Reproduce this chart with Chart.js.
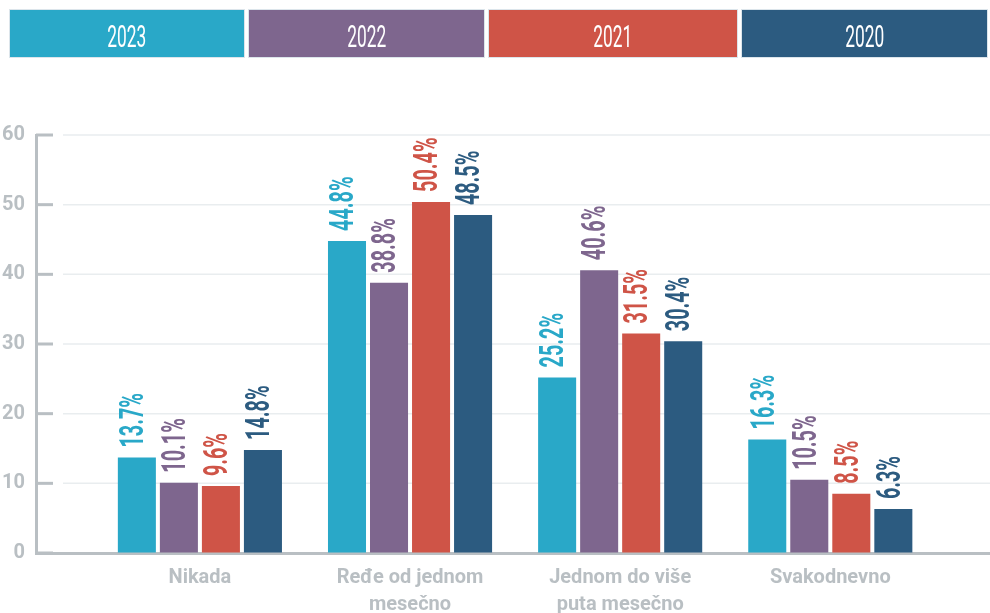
<!DOCTYPE html>
<html>
<head>
<meta charset="utf-8">
<title>Učestalost po godinama</title>
<script src="https://cdn.jsdelivr.net/npm/chart.js@4.4.1/dist/chart.umd.min.js"></script>
<style>
  html, body { margin: 0; padding: 0; background: #fff; overflow: hidden; }
  body { width: 990px; height: 613px; position: relative; }
  .legend { position: absolute; top: 10px; left: 10px; display: flex; gap: 5px; z-index: 2; }
  .legend div {
    height: 47px; display: flex; align-items: center; justify-content: center;
    box-shadow: 0 0 0 1px rgba(205, 218, 226, 0.7);
  }
  .legend span {
    display: inline-block; color: #fff; font-family: Roboto, sans-serif; font-weight: 400;
    font-size: 31px; line-height: 31px; transform: scaleX(0.56); margin-top: 5px;
  }
  .chart-box { position: absolute; top: 0; left: 0; width: 990px; height: 629px; }
</style>
</head>
<body>
<div class="legend" id="legend"></div>
<div class="chart-box"><canvas id="freqChart"></canvas></div>
<script>
// Survey answers, one series per year
const categories = [['Nikada'], ['Ređe od jednom', 'mesečno'], ['Jednom do više', 'puta mesečno'], ['Svakodnevno']];
const years = ['2023', '2022', '2021', '2020'];
const yearColors = ['#29a8c8', '#7e668e', '#cf5447', '#2c5b80'];
const values2023 = [13.7, 44.8, 25.2, 16.3];
const values2022 = [10.1, 38.8, 40.6, 10.5];
const values2021 = [9.6, 50.4, 31.5, 8.5];
const values2020 = [14.8, 48.5, 30.4, 6.3];
const yMax = 60;
const yStep = 10;

const seriesValues = [values2023, values2022, values2021, values2020];
const axisGray = '#b9bfc3';

// Build the year strip above the chart
const legendWidths = [234, 235, 248, 245];
document.getElementById('legend').innerHTML = years.map((year, i) => `
    <div style="width:${legendWidths[i]}px;background:${yearColors[i]}"><span>${year}</span></div>
`).join('');

// Light gridlines plus short tick marks sticking out of the y axis
const yGuides = {
    id: 'yGuides',
    beforeDatasetsDraw(chart) {
        const { ctx, chartArea, scales: { y } } = chart;
        ctx.save();
        y.ticks.forEach(tick => {
            const py = y.getPixelForValue(tick.value);
            if (tick.value > 0) {
                ctx.strokeStyle = '#e9edef';
                ctx.lineWidth = 1.5;
                ctx.beginPath();
                ctx.moveTo(chartArea.left + 27, py);
                ctx.lineTo(chartArea.right, py);
                ctx.stroke();
            }
            ctx.strokeStyle = axisGray;
            ctx.lineWidth = 3;
            ctx.beginPath();
            ctx.moveTo(chartArea.left, py);
            ctx.lineTo(chartArea.left + 17, py);
            ctx.stroke();
        });
        ctx.restore();
    }
};

// Rotated percentage labels on top of every bar
const barValueLabels = {
    id: 'barValueLabels',
    afterDatasetsDraw(chart) {
        const ctx = chart.ctx;
        chart.data.datasets.forEach((ds, i) => {
            const meta = chart.getDatasetMeta(i);
            meta.data.forEach((bar, j) => {
                const text = ds.data[j].y.toFixed(1) + '%';
                ctx.save();
                ctx.translate(bar.x - 2, bar.y - 10);
                ctx.rotate(-Math.PI / 2);
                ctx.scale(0.6, 1);
                ctx.font = 'bold 33px Roboto';
                ctx.fillStyle = ds.backgroundColor;
                ctx.textAlign = 'left';
                ctx.textBaseline = 'middle';
                ctx.fillText(text, 0, 0);
                ctx.restore();
            });
        });
    }
};

const ctx = document.getElementById('freqChart').getContext('2d');
new Chart(ctx, {
    type: 'bar',
    data: {
        datasets: years.map((year, i) => ({
            label: year,
            data: seriesValues[i].map((v, k) => ({ x: k, y: v })),
            backgroundColor: yearColors[i],
            categoryPercentage: 0.8,
            barPercentage: 0.905
        }))
    },
    options: {
        responsive: true,
        maintainAspectRatio: false,
        animation: false,
        layout: { padding: { top: 135, left: 0, right: 0, bottom: 0 } },
        plugins: {
            legend: { display: false },
            tooltip: { enabled: false }
        },
        scales: {
            x: {
                type: 'linear',
                offset: false,
                min: -0.78,
                max: 3.76,
                grid: { display: false, drawTicks: false, offset: false },
                border: { color: axisGray, width: 3 },
                ticks: {
                    stepSize: 1,
                    includeBounds: false,
                    autoSkip: false,
                    maxRotation: 0,
                    padding: 11,
                    color: axisGray,
                    font: { family: 'Roboto', size: 20, weight: 'bold', lineHeight: 1.35 },
                    callback: v => Number.isInteger(v) && categories[v] ? categories[v] : ''
                }
            },
            y: {
                min: 0,
                max: yMax,
                afterFit(scale) { scale.width = 36; },
                grid: { color: 'rgba(0,0,0,0)', drawTicks: false },
                border: { color: axisGray, width: 3 },
                ticks: {
                    stepSize: yStep,
                    padding: 11,
                    color: axisGray,
                    font: { family: 'Roboto', size: 20, weight: 'bold' }
                }
            }
        }
    },
    plugins: [yGuides, barValueLabels]
});
</script>
</body>
</html>
